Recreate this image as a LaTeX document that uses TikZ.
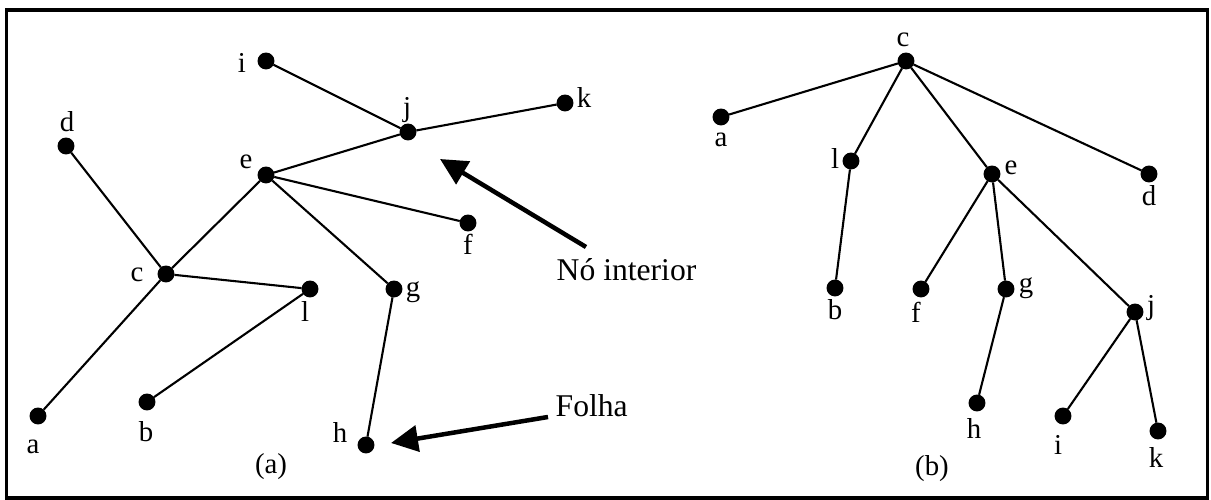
\documentclass[tikz,border=0pt]{standalone}
\usepackage{fontspec}
\setmainfont{Liberation Serif}
\usetikzlibrary{arrows.meta}

\begin{document}
\begin{tikzpicture}[x=0.1mm,y=-0.1mm]
	\tikzset{enclosed/.style={draw, circle, inner sep=0pt, minimum size=1.55mm, fill=black},
		tag/.style={inner sep=0pt, font=\fontsize{8.2}{9.5}\selectfont},
		callout/.style={inner sep=0pt, font=\fontsize{9}{10.8}\selectfont},
		edge/.style={line width=0.21mm},
		pointer/.style={line width=0.45mm, -{Triangle[length=2.7mm,width=2.6mm]}}}
	\useasboundingbox (0,0) rectangle (1211,500);
	\draw[line width=0.33mm] (6.5,10) rectangle (1207.5,498);
	
	\foreach \n/\x/\y/\lx/\ly in {i/266/61/242/63, j/408/132/407/110, k/565/103/584/98, d/66/146/67/122,
		e/266/175/246/162, f/468/223/468/244, c/166/274/137/275, l/310/289/305/312,
		g/394/289/413/292, a/38/416/33/447, b/147/402/146/432, h/366/445/340/433}{
		\node[enclosed] (l\n) at (\x,\y) {};
		\node[tag] (tl\n) at (\lx,\ly) {\n};
	}
	\foreach \u/\v in {i/j, j/k, j/e, e/c, e/f, e/g, d/c, c/l, c/a, l/b, g/h}
		\draw[edge] (l\u)--(l\v);
	
	\foreach \n/\x/\y/\lx/\ly in {c/906/61/903/40, a/721/117/721/140, l/851/161/835/159, e/992/174/1011/168,
		d/1149/174/1149/196, b/835/288/835/310, f/921/289/916/312, g/1006/289/1026/288,
		j/1135/312/1151/308, h/977/403/974/429, i/1063/416/1058/445, k/1158/431/1156/458}{
		\node[enclosed] (r\n) at (\x,\y) {};
		\node[tag] (tr\n) at (\lx,\ly) {\n};
	}
	\foreach \u/\v in {c/a, c/l, c/e, c/d, l/b, e/f, e/g, e/j, g/h, j/i, j/k}
		\draw[edge] (r\u)--(r\v);
	
	\node[tag] (capa) at (271,467) {(a)};
	\node[tag] (capb) at (932,469) {(b)};
	
	\node[callout, anchor=base west] (inner) at (556,281) {Nó interior};
	\node[callout, anchor=base west] (leaf) at (555,417) {Folha};
	\coordinate (tipinner) at (440,159);
	\coordinate (tipleaf) at (391,443);
	\draw[pointer] ([shift={(30,-34)}]inner.base west) -- (tipinner);
	\draw[pointer] ([shift={(-7,0)}]leaf.base west) -- (tipleaf);
\end{tikzpicture}
\end{document}
